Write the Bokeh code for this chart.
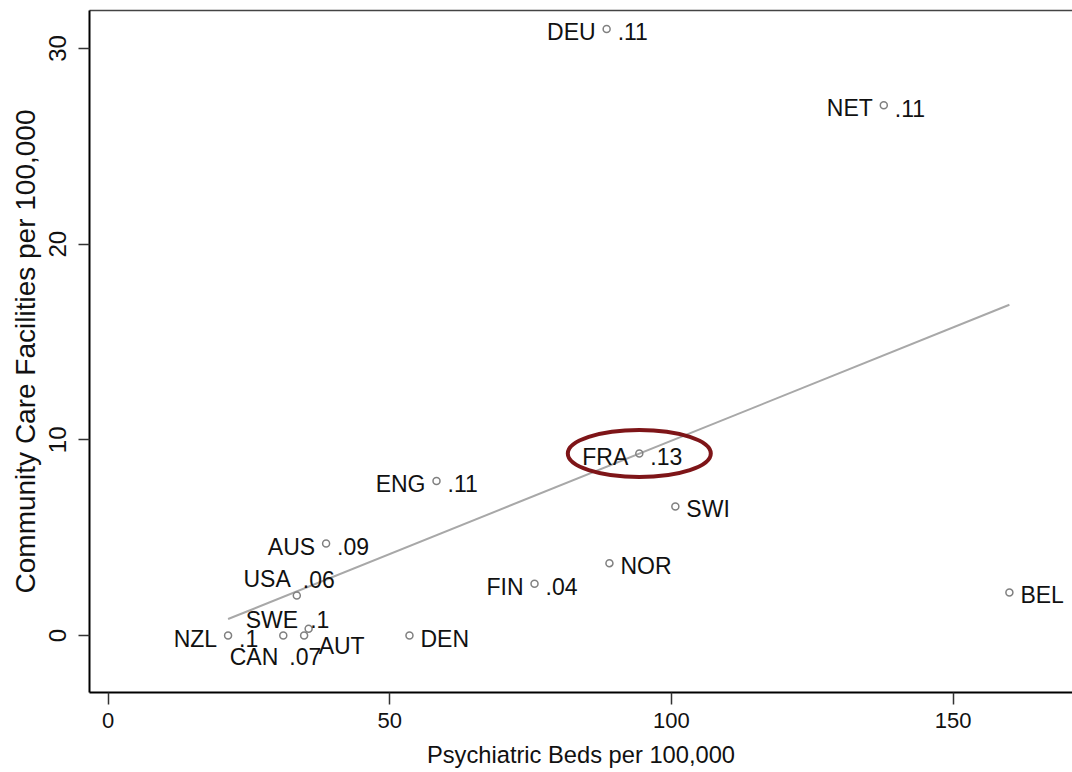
import numpy as np
from bokeh.plotting import figure
from bokeh.models import FixedTicker, ColumnDataSource, Range1d, LinearAxis
from bokeh.core.properties import value
from bokeh.embed import file_html
from bokeh.resources import INLINE

# ---- data ----
countries = ["DEU", "NET", "FRA", "ENG", "SWI", "AUS", "NOR", "FIN", "USA",
             "BEL", "DEN", "NZL", "CAN", "SWE", "AUT"]
beds = [88.5, 137.7, 94.3, 58.3, 100.7, 38.7, 89.0, 75.7, 33.5,
        160.0, 53.5, 21.3, 31.1, 34.8, 35.6]
facilities = [31.0, 27.1, 9.3, 7.9, 6.6, 4.7, 3.7, 2.65, 2.05,
              2.2, 0.0, 0.0, 0.0, 0.0, 0.35]
shares = [".11", ".11", ".13", ".11", "", ".09", "", ".04", ".06",
          "", "", ".1", ".07", ".1", ""]
highlight = "FRA"
x_ticks = [0, 50, 100, 150]
y_ticks = [0, 10, 20, 30]

# ---- label placement (style): clock positions ----
name_pos = [9, 9, 9, 9, 3, 9, 3, 9, 11, 3, 3, 9, 7, 11, 4]
share_pos = [3, 3, 3, 3, 3, 3, 3, 3, 1, 3, 3, 3, 5, 1, 3]
POS = {
    9: (-11, 3, "right"),
    3: (11, 3, "left"),
    11: (-6, -16, "right"),
    1: (6, -16, "left"),
    7: (-5, 21, "right"),
    5: (6, 21, "left"),
    4: (10, 17, "left"),
}

FONT = value("Liberation Sans")
TXT = "#111111"

p = figure(width=1072, height=770,
           x_range=Range1d(-3.3, 171.2), y_range=Range1d(-2.91, 31.94),
           output_backend="svg", toolbar_location=None,
           min_border_left=89, min_border_right=0,
           min_border_top=10, min_border_bottom=77)
p.grid.visible = False
p.outline_line_color = None
p.background_fill_color = "white"
p.border_fill_color = "white"

bx = p.below[0]
ly = p.left[0]

for ax in (bx, ly):
    ax.axis_line_color = "black"
    ax.axis_line_width = 2
    ax.major_tick_line_color = "#333333"
    ax.major_tick_line_width = 1.5
    ax.major_tick_in = 0
    ax.minor_tick_line_color = None
    ax.major_label_text_font = "Liberation Sans"
    ax.axis_label_text_font = "Liberation Sans"
    ax.major_label_text_color = TXT
    ax.axis_label_text_color = TXT
    ax.axis_label_text_font_style = "normal"

bx.ticker = FixedTicker(ticks=x_ticks)
ly.ticker = FixedTicker(ticks=y_ticks)
bx.axis_label = "Psychiatric Beds per 100,000"
ly.axis_label = "Community Care Facilities per 100,000"
bx.major_tick_out = 12
ly.major_tick_out = 11
bx.major_label_text_font_size = "22px"
ly.major_label_text_font_size = "24px"
bx.axis_label_text_font_size = "23.7px"
ly.axis_label_text_font_size = "28px"
bx.major_label_standoff = 8
ly.major_label_standoff = 12
bx.axis_label_standoff = 11
ly.axis_label_standoff = 6
ly.major_label_orientation = "vertical"

# top frame line only (the right side of the frame is cut off)
top = LinearAxis(ticker=FixedTicker(ticks=[]), axis_line_color="#444444",
                 axis_line_width=1.5, major_tick_line_color=None,
                 minor_tick_line_color=None, major_label_text_font_size="0px")
p.add_layout(top, "above")

# ---- fitted line (OLS) ----
slope, intercept = np.polyfit(beds, facilities, 1)
fx = [min(beds), max(beds)]
fy = [intercept + slope * v for v in fx]
p.line(fx, fy, line_color="#a8a8a8", line_width=2)

# ---- markers ----
p.scatter(beds, facilities, marker="circle", size=7, fill_color=None,
          line_color="#808080", line_width=1.5)

# ---- labels ----
rows = {"left": dict(x=[], y=[], t=[], dx=[], dy=[]),
        "right": dict(x=[], y=[], t=[], dx=[], dy=[])}
for i, c in enumerate(countries):
    for txt, pos in ((c, name_pos[i]), (shares[i], share_pos[i])):
        if not txt:
            continue
        dx, dy, al = POS[pos]
        r = rows[al]
        r["x"].append(beds[i]); r["y"].append(facilities[i])
        r["t"].append(txt); r["dx"].append(dx); r["dy"].append(dy)

for al, r in rows.items():
    p.text(x="x", y="y", text="t", x_offset="dx", y_offset="dy",
           source=ColumnDataSource(r), text_align=al, text_baseline="middle",
           text_font=FONT, text_font_size="23px", text_color=TXT)

# ---- highlight ellipse ----
hi = countries.index(highlight)
p.ellipse(x=[beds[hi]], y=[facilities[hi]], width=143, height=47,
          width_units="screen", height_units="screen",
          fill_color=None, line_color="#7e1518", line_width=4)

open("out.html", "w").write(file_html(p, INLINE))
